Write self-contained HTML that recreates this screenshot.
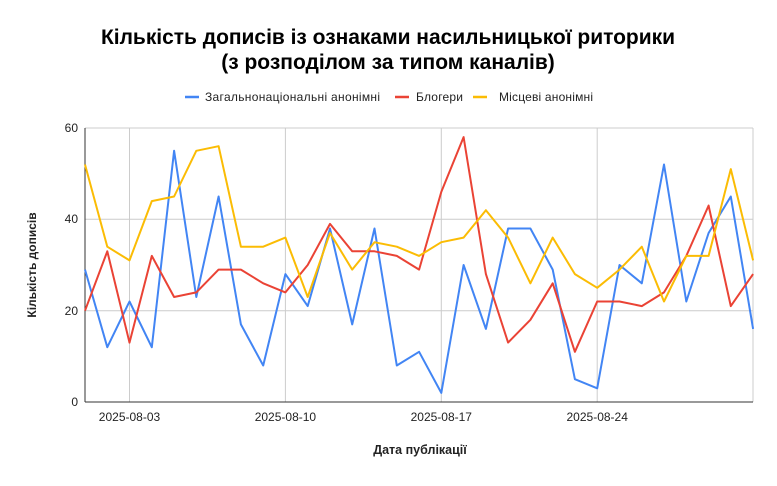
<!DOCTYPE html>
<html><head><meta charset="utf-8"><style>
body{margin:0;background:#fff;width:777px;height:481px;overflow:hidden;font-family:"Liberation Sans",Arial,sans-serif}
</style></head><body>
<svg width="777" height="481" xmlns="http://www.w3.org/2000/svg" font-family="Liberation Sans, Arial, sans-serif">
<text x="388" y="44" text-anchor="middle" font-size="21" font-weight="bold" fill="#000" textLength="574">Кількість дописів із ознаками насильницької риторики</text>
<text x="388" y="69" text-anchor="middle" font-size="21" font-weight="bold" fill="#000">(з розподілом за типом каналів)</text>
<g font-size="12" fill="#222">
<line x1="185" y1="97" x2="199" y2="97" stroke="#4285f4" stroke-width="2.5"/><text x="205" y="101" textLength="175">Загальнонаціональні анонімні</text>
<line x1="395" y1="97" x2="409" y2="97" stroke="#ea4335" stroke-width="2.5"/><text x="416" y="101" textLength="47">Блогери</text>
<line x1="473" y1="97" x2="487" y2="97" stroke="#fbbc04" stroke-width="2.5"/><text x="499" y="101" textLength="94">Місцеві анонімні</text>
</g>
<g stroke="#ccc" stroke-width="1">
<line x1="85" y1="128" x2="753" y2="128"/><line x1="85" y1="219.3" x2="753" y2="219.3"/><line x1="85" y1="310.7" x2="753" y2="310.7"/>
<line x1="129.5" y1="128" x2="129.5" y2="402"/><line x1="285.4" y1="128" x2="285.4" y2="402"/><line x1="441.3" y1="128" x2="441.3" y2="402"/><line x1="597.2" y1="128" x2="597.2" y2="402"/><line x1="753" y1="128" x2="753" y2="402"/>
</g>
<line x1="85" y1="128" x2="85" y2="402" stroke="#333" stroke-width="1"/>
<line x1="85" y1="402" x2="753" y2="402" stroke="#333" stroke-width="1"/>
<g font-size="12" fill="#222" text-anchor="end">
<text x="78" y="132">60</text><text x="78" y="223">40</text><text x="78" y="315">20</text><text x="78" y="406">0</text>
</g>
<g font-size="12" fill="#222" text-anchor="middle">
<text x="129.5" y="421">2025-08-03</text><text x="285.4" y="421">2025-08-10</text><text x="441.3" y="421">2025-08-17</text><text x="597.2" y="421">2025-08-24</text>
</g>
<text x="420" y="454" text-anchor="middle" font-size="12.5" font-weight="bold" fill="#222">Дата публікації</text>
<text transform="translate(36,265) rotate(-90)" text-anchor="middle" font-size="12" font-weight="bold" fill="#222">Кількість дописів</text>
<g fill="none" stroke-width="2" stroke-linejoin="round" id="s"></g>
</svg>
<script>
const B=[29,12,22,12,55,23,45,17,8,28,21,38,17,38,8,11,2,30,16,38,38,29,5,3,30,26,52,22,37,45,16];
const R=[20,33,13,32,23,24,29,29,26,24,30,39,33,33,32,29,46,58,28,13,18,26,11,22,22,21,24,32,43,21,28];
const Y=[52,34,31,44,45,55,56,34,34,36,23,37,29,35,34,32,35,36,42,36,26,36,28,25,29,34,22,32,32,51,31];
const g=document.getElementById('s');
[[B,'#4285f4'],[R,'#ea4335'],[Y,'#fbbc04']].forEach(([d,c])=>{
const p=document.createElementNS('http://www.w3.org/2000/svg','polyline');
p.setAttribute('points',d.map((v,i)=>(85+i*22.27).toFixed(1)+','+(402-v*4.567).toFixed(1)).join(' '));
p.setAttribute('stroke',c);g.appendChild(p);});
</script>
</body></html>
